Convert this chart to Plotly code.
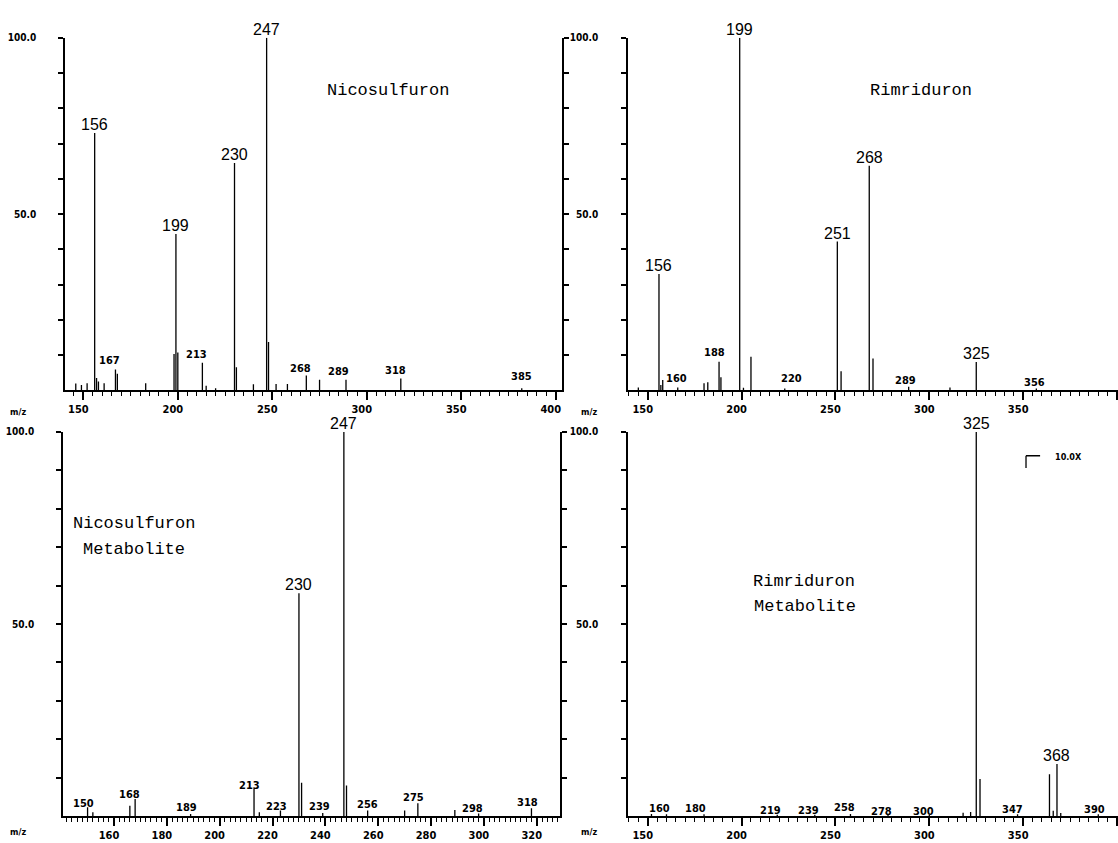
import plotly.graph_objects as go

# ---------------- data (m/z, relative intensity %) ----------------
# Nicosulfuron (top-left)
nico_mz = [146, 149, 152, 156, 157, 158, 161, 167, 168, 183, 198, 199, 200, 213, 215, 220,
           230, 231, 240, 247, 248, 252, 258, 268, 275, 289, 318, 382]
nico_int = [1.9, 1.5, 2.0, 73, 3.5, 2.5, 2.0, 5.9, 4.7, 2.0, 10.3, 44.3, 10.7, 7.8, 1.3, 0.6,
            64.5, 6.5, 1.7, 100, 13.7, 1.8, 1.8, 4.2, 3.0, 3.0, 3.3, 0.6]
nico_big = ["156", "199", "230", "247"]
nico_small_text = ["167", "213", "268", "289", "318", "385"]
nico_small_mz = [164, 210, 265, 285, 315, 382]
nico_small_y = [8.4, 10.1, 6.2, 5.2, 5.6, 4.0]

# Rimriduron (top-right)
rim_mz = [145, 156, 157, 158, 166, 180, 182, 188, 189, 199, 201, 205, 223, 251, 253,
          268, 270, 289, 311, 325, 357]
rim_int = [0.8, 33, 1.5, 2.9, 0.8, 2.0, 2.3, 8.1, 3.7, 100, 0.7, 9.5, 0.5, 42.2, 5.4,
           63.7, 9.0, 1.0, 0.8, 8.0, 0.5]
rim_big = ["156", "199", "251", "268", "325"]
rim_small_text = ["160", "188", "220", "289", "356"]
rim_small_mz = [165.5, 185.5, 226.6, 287.5, 356]
rim_small_y = [3.4, 10.6, 3.3, 2.8, 2.3]

# Nicosulfuron Metabolite (bottom-left)
met1_mz = [150, 152, 166, 168, 189, 213, 215, 223, 230, 231, 239, 247, 248, 256, 270,
           275, 289, 298, 318]
met1_int = [2.3, 1.0, 2.7, 4.5, 0.6, 7.2, 1.0, 1.5, 58, 8.7, 0.8, 100, 8.0, 1.5, 1.5,
            3.4, 1.6, 0.7, 2.1]
met1_big = ["230", "247"]
met1_small_text = ["150", "168", "189", "213", "223", "239", "256", "275", "298", "318"]
met1_small_mz = [148.3, 165.8, 187.4, 211.1, 221.6, 237.6, 256.1, 273.3, 295.6, 316.5]
met1_small_y = [3.4, 5.6, 2.2, 7.9, 2.4, 2.4, 3.1, 4.9, 2.1, 3.6]

# Rimriduron Metabolite (bottom-right)
met2_mz = [152, 160, 180, 219, 239, 258, 278, 300, 318, 322, 325, 327, 347, 364, 366,
           368, 370, 390]
met2_int = [0.6, 0.5, 0.5, 0.4, 0.4, 0.6, 0.3, 0.4, 0.9, 1.1, 100, 9.7, 0.5, 10.9, 1.4,
           13.6, 0.8, 0.5]
met2_big = ["325", "368"]
met2_small_text = ["160", "180", "219", "239", "258", "278", "300", "347", "390"]
met2_small_mz = [156.3, 175.7, 215.5, 235.9, 255, 274.7, 297, 344.5, 388]
met2_small_y = [2.1, 2.1, 1.6, 1.6, 2.2, 1.2, 1.2, 1.8, 1.8]

ytick_vals = [10, 20, 30, 40, 50, 60, 70, 80, 90, 100]
ytick_text = ["", "", "", "", "50.0", "", "", "", "", "100.0"]

# ---------------- layout geometry ----------------
W, H = 1118, 843
SMALL = dict(family="Liberation Sans Narrow, DejaVu Sans Condensed, Liberation Sans, sans-serif",
             size=11, color="black", weight="bold")
BIG = dict(family="Liberation Sans, Arial, sans-serif", size=16, color="black")
TITLE = dict(family="Liberation Mono, DejaVu Sans Mono, monospace", size=17, color="black")

panels = [
    dict(mz=nico_mz, it=nico_int, big=nico_big, st=nico_small_text, sx=nico_small_mz, sy=nico_small_y,
         xd=(65, 562), yd=(387, 32), xr=(140.3, 403.3), dtick=50, minor=5, mirror=True,
         ystand=20, mzlab=(18, 409)),
    dict(mz=rim_mz, it=rim_int, big=rim_big, st=rim_small_text, sx=rim_small_mz, sy=rim_small_y,
         xd=(628, 1118), yd=(387, 32), xr=(139.5, 400.5), dtick=50, minor=5, mirror=False,
         ystand=21, mzlab=(589, 409)),
    dict(mz=met1_mz, it=met1_int, big=met1_big, st=met1_small_text, sx=met1_small_mz, sy=met1_small_y,
         xd=(63, 560), yd=(816, 429), xr=(140.7, 328.8), dtick=20, minor=2, mirror=True,
         ystand=20, mzlab=(18, 832)),
    dict(mz=met2_mz, it=met2_int, big=met2_big, st=met2_small_text, sx=met2_small_mz, sy=met2_small_y,
         xd=(628, 1118), yd=(816, 429), xr=(139.5, 400.5), dtick=50, minor=5, mirror=False,
         ystand=21, mzlab=(589, 832)),
]

fig = go.Figure()
annotations = []
layout_axes = {}

for i, p in enumerate(panels, start=1):
    sfx = "" if i == 1 else str(i)
    xref, yref = "x" + sfx, "y" + sfx
    xs, ys = [], []
    for m, v in zip(p["mz"], p["it"]):
        xs += [m, m, None]
        ys += [0, v, None]
    fig.add_trace(go.Scatter(x=xs, y=ys, mode="lines", xaxis=xref, yaxis=yref,
                             line=dict(color="black", width=1.3), hoverinfo="skip",
                             showlegend=False))
    layout_axes["xaxis" + sfx] = dict(
        domain=[p["xd"][0] / W, min(p["xd"][1] / W, 1.0)], range=list(p["xr"]),
        anchor=yref, showline=True, linecolor="black", linewidth=1.5,
        showgrid=False, zeroline=False, ticks="outside", ticklen=8, tickwidth=1.5,
        tickcolor="black", tick0=0, dtick=p["dtick"], tickfont=SMALL,
        ticklabelshift=-5, ticklabelstandoff=0,
        minor=dict(dtick=p["minor"], tick0=0, ticks="outside", ticklen=4,
                   tickwidth=1.2, tickcolor="black"),
        fixedrange=True)
    layout_axes["yaxis" + sfx] = dict(
        domain=[1 - p["yd"][0] / H, 1 - p["yd"][1] / H], range=[0, 100],
        anchor=xref, showline=True, linecolor="black", linewidth=1.5,
        mirror="ticks" if p["mirror"] else False,
        showgrid=False, zeroline=False, ticks="outside", ticklen=5, tickwidth=1.5,
        tickcolor="black", tickvals=ytick_vals, ticktext=ytick_text,
        tickfont=dict(SMALL, size=10), ticklabelstandoff=p["ystand"], fixedrange=True)

    lookup = dict(zip(p["mz"], p["it"]))
    for t in p["big"]:
        m = int(t)
        annotations.append(dict(x=m, y=lookup[m], xref=xref, yref=yref, text=t,
                                showarrow=False, xanchor="center", yanchor="bottom",
                                yshift=-2, font=BIG))
    for t, x, y in zip(p["st"], p["sx"], p["sy"]):
        annotations.append(dict(x=x, y=y, xref=xref, yref=yref, text=t, showarrow=False,
                                xanchor="center", yanchor="middle", font=SMALL))
    annotations.append(dict(x=p["mzlab"][0] / W, y=1 - p["mzlab"][1] / H, xref="paper",
                            yref="paper", text="m/z", showarrow=False, xanchor="center",
                            yanchor="middle", font=dict(SMALL, size=9)))

# titles
titles = [("Nicosulfuron", 388, 85), ("Rimriduron", 921, 85),
          ("Nicosulfuron", 134, 521), ("Metabolite", 134, 547),
          ("Rimriduron", 804, 580), ("Metabolite", 805, 605)]
for t, x, y in titles:
    annotations.append(dict(x=x / W, y=1 - y / H, xref="paper", yref="paper", text=t,
                            showarrow=False, xanchor="center", yanchor="middle", font=TITLE))

# 10.0X scale marker (bottom-right)
annotations.append(dict(x=373.9, y=93.6, xref="x4", yref="y4", text="10.0X",
                        showarrow=False, xanchor="center", yanchor="middle",
                        font=dict(SMALL, size=9)))
shapes = [
    dict(type="line", xref="x4", yref="y4", x0=351.5, x1=351.5, y0=90.6, y1=93.8,
         line=dict(color="black", width=1.3)),
    dict(type="line", xref="x4", yref="y4", x0=351.5, x1=359.0, y0=93.8, y1=93.8,
         line=dict(color="black", width=1.3)),
]

fig.update_layout(width=W, height=H, margin=dict(l=0, r=0, t=0, b=0),
                  paper_bgcolor="white", plot_bgcolor="white", showlegend=False,
                  hovermode=False, annotations=annotations, shapes=shapes, **layout_axes)

fig.write_html("out.html", config=dict(displayModeBar=False),
               post_script="document.body.style.margin='0';document.body.style.overflow='hidden';")
